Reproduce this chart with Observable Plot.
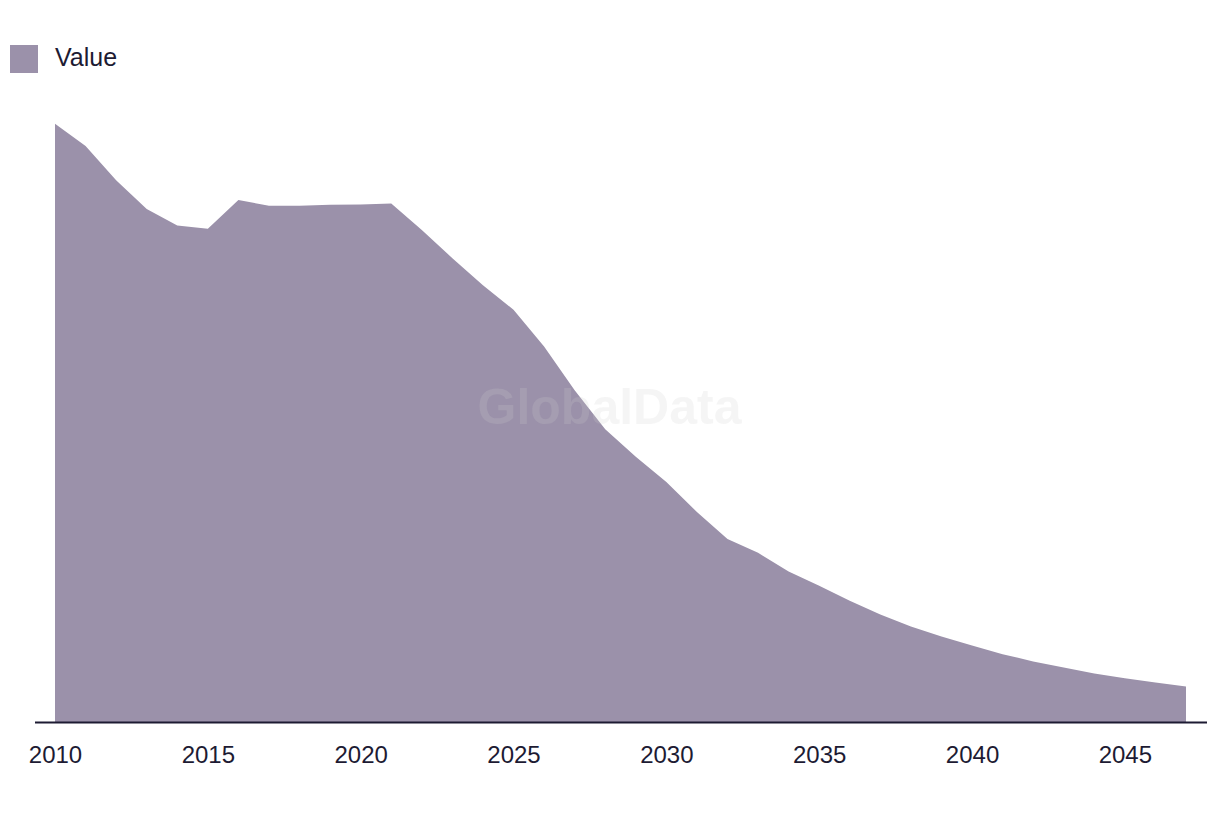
<!DOCTYPE html>
<html>
<head>
<meta charset="utf-8">
<script src="https://cdn.jsdelivr.net/npm/d3@7"></script>
<script src="https://cdn.jsdelivr.net/npm/@observablehq/plot@0.6"></script>
<style>
  html, body { margin: 0; padding: 0; background: #ffffff; }
  body { width: 1220px; height: 814px; overflow: hidden; font-family: "Liberation Sans", Arial, sans-serif; color: #1d1b33; }
  #legend { height: 100px; position: relative; }
  #legend .sw { position: absolute; left: 10px; top: 45px; width: 28px; height: 28px; background: #9b91aa; }
  #legend .lb { position: absolute; left: 55px; top: 42px; font-size: 25px; line-height: 30px; color: #1d1b33; }
</style>
</head>
<body>
<div id="legend"><div class="sw"></div><div class="lb">Value</div></div>
<div id="chart"></div>
<script>
const years = [2010,2011,2012,2013,2014,2015,2016,2017,2018,2019,2020,2021,2022,2023,2024,2025,2026,2027,2028,2029,2030,2031,2032,2033,2034,2035,2036,2037,2038,2039,2040,2041,2042,2043,2044,2045,2046,2047];
const values = [99.7,96.0,90.3,85.5,82.75,82.2,87.0,86.05,86.05,86.2,86.25,86.4,82.0,77.3,72.8,68.7,62.6,55.3,48.8,44.2,40.0,35.0,30.5,28.2,25.1,22.7,20.2,17.9,15.9,14.25,12.75,11.3,10.1,9.1,8.1,7.3,6.6,5.9];
const tickYears = [2010,2015,2020,2025,2030,2035,2040,2045];
const seriesName = "Value";
const watermark = "GlobalData";

const data = years.map((y, i) => ({year: y, value: values[i]}));

const chart = Plot.plot({
  width: 1220,
  height: 714,
  marginLeft: 35,
  marginRight: 13,
  marginTop: 22,
  marginBottom: 92,
  insetLeft: 20,
  insetRight: 21,
  style: {fontFamily: '"Liberation Sans", Arial, sans-serif', fontSize: "24px", color: "#1d1b33", background: "#ffffff"},
  x: {domain: [2010, 2047], ticks: tickYears, tickFormat: d => String(d), tickSize: 0, tickPadding: 23, label: null},
  y: {domain: [0, 100], axis: null},
  marks: [
    Plot.areaY(data, {x: "year", y: "value", fill: "#9b91aa", curve: "linear"}),
    Plot.text([watermark], {frameAnchor: "middle", dx: -12, dy: -15, text: d => d, fontSize: 50, fontWeight: "bold", fill: "#cfcfcf", fillOpacity: 0.2}),
    Plot.ruleY([0], {stroke: "#1d1b33", strokeWidth: 2})
  ]
});
document.getElementById("chart").appendChild(chart);
</script>
</body>
</html>
